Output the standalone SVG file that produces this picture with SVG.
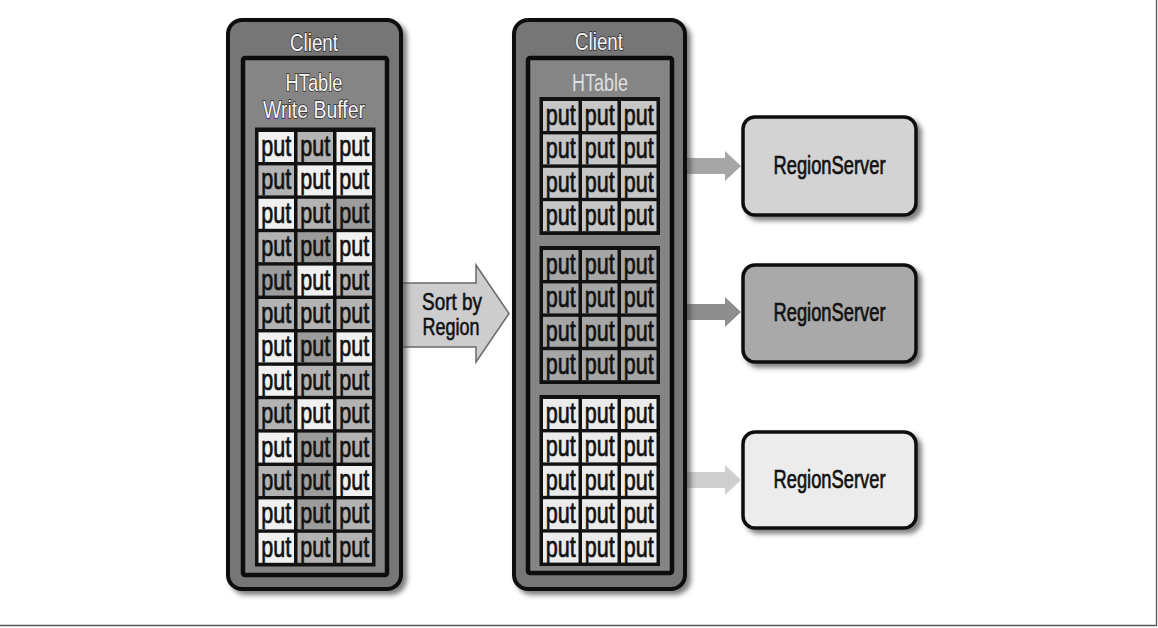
<svg xmlns="http://www.w3.org/2000/svg" width="1158" height="628" viewBox="0 0 1158 628">
<defs>
<filter id="sh" x="-10%" y="-10%" width="130%" height="130%">
<feDropShadow dx="4" dy="4" stdDeviation="2.5" flood-color="#444" flood-opacity="0.7"/>
</filter>
</defs>
<style>
.put{font-family:"Liberation Sans Narrow","Liberation Sans",Arial,sans-serif;font-size:29px;fill:#111;stroke:#111;stroke-width:0.7px;text-anchor:middle}
.lbl{font-family:"Liberation Sans Narrow","Liberation Sans",Arial,sans-serif;font-size:23px;fill:#f6f6f6;stroke:#2a2a2a;stroke-width:1.4px;paint-order:stroke;text-anchor:middle}
.lbl2{font-family:"Liberation Sans Narrow","Liberation Sans",Arial,sans-serif;font-size:23px;fill:#dedede;text-anchor:middle}
.rs{font-family:"Liberation Sans Narrow","Liberation Sans",Arial,sans-serif;font-size:26px;fill:#111;stroke:#111;stroke-width:0.7px;text-anchor:middle}
.sort{font-family:"Liberation Sans Narrow","Liberation Sans",Arial,sans-serif;font-size:24px;fill:#111;stroke:#111;stroke-width:0.6px;text-anchor:middle}
.w{fill:#f1f1f1}.g{fill:#b3b3b3}.d{fill:#9c9c9c}
.r1{fill:#c6c6c6}.r2{fill:#a6a6a6}.r3{fill:#ebebeb}
.outer{fill:#767676;stroke:#0c0c0c;stroke-width:4}
.inner{fill:#858585;stroke:#0c0c0c;stroke-width:4.5}
.grid{fill:#111}
.rsbox{stroke:#0c0c0c;stroke-width:3.5}
</style>
<rect x="0" y="0" width="1158" height="628" fill="#ffffff"/>
<g id="page-frame" stroke="#555" stroke-width="1.3" fill="none">
<line x1="1156.5" y1="0" x2="1156.5" y2="626"/>
<line x1="0" y1="625.5" x2="1157" y2="625.5"/>
</g>

<g id="connectors">
<polygon points="398,283 476,283 476,265 509,313.5 476,362 476,347 398,347" fill="#cdcdcd" stroke="#6a6a6a" stroke-width="1.5"/>
<text class="sort" x="452" y="310" textLength="60" lengthAdjust="spacingAndGlyphs">Sort by</text>
<text class="sort" x="451" y="335" textLength="57" lengthAdjust="spacingAndGlyphs">Region</text>
<polygon points="686,158 725,158 725,151 741,166 725,181 725,174 686,174" fill="#a6a6a6"/>
<polygon points="686,304 725,304 725,297 741,312 725,327 725,320 686,320" fill="#8e8e8e"/>
<polygon points="686,472 725,472 725,465 741,480 725,495 725,488 686,488" fill="#cfcfcf"/>
</g>

<g id="client-left">
<rect class="outer" x="228" y="20" width="173" height="569" rx="14" filter="url(#sh)"/>
<rect class="inner" x="243" y="58" width="144" height="517" rx="2"/>
<text class="lbl" x="314" y="51" textLength="48" lengthAdjust="spacingAndGlyphs">Client</text>
<text class="lbl" x="314" y="91" textLength="57" lengthAdjust="spacingAndGlyphs">HTable</text>
<text class="lbl" x="314" y="118" textLength="102" lengthAdjust="spacingAndGlyphs">Write Buffer</text>
<rect class="grid" x="255" y="127.5" width="120.5" height="439"/>
<g transform="translate(0,132)"><rect class="w" x="258.5" y="0" width="35.5" height="30"/><rect class="g" x="297.5" y="0" width="35.5" height="30"/><rect class="w" x="336.5" y="0" width="35.5" height="30"/><text class="put" x="276.25" y="24" textLength="30" lengthAdjust="spacingAndGlyphs">put</text><text class="put" x="315.25" y="24" textLength="30" lengthAdjust="spacingAndGlyphs">put</text><text class="put" x="354.25" y="24" textLength="30" lengthAdjust="spacingAndGlyphs">put</text></g>
<g transform="translate(0,165.4)"><rect class="g" x="258.5" y="0" width="35.5" height="30"/><rect class="w" x="297.5" y="0" width="35.5" height="30"/><rect class="w" x="336.5" y="0" width="35.5" height="30"/><text class="put" x="276.25" y="24" textLength="30" lengthAdjust="spacingAndGlyphs">put</text><text class="put" x="315.25" y="24" textLength="30" lengthAdjust="spacingAndGlyphs">put</text><text class="put" x="354.25" y="24" textLength="30" lengthAdjust="spacingAndGlyphs">put</text></g>
<g transform="translate(0,198.8)"><rect class="w" x="258.5" y="0" width="35.5" height="30"/><rect class="g" x="297.5" y="0" width="35.5" height="30"/><rect class="d" x="336.5" y="0" width="35.5" height="30"/><text class="put" x="276.25" y="24" textLength="30" lengthAdjust="spacingAndGlyphs">put</text><text class="put" x="315.25" y="24" textLength="30" lengthAdjust="spacingAndGlyphs">put</text><text class="put" x="354.25" y="24" textLength="30" lengthAdjust="spacingAndGlyphs">put</text></g>
<g transform="translate(0,232.2)"><rect class="g" x="258.5" y="0" width="35.5" height="30"/><rect class="d" x="297.5" y="0" width="35.5" height="30"/><rect class="w" x="336.5" y="0" width="35.5" height="30"/><text class="put" x="276.25" y="24" textLength="30" lengthAdjust="spacingAndGlyphs">put</text><text class="put" x="315.25" y="24" textLength="30" lengthAdjust="spacingAndGlyphs">put</text><text class="put" x="354.25" y="24" textLength="30" lengthAdjust="spacingAndGlyphs">put</text></g>
<g transform="translate(0,265.6)"><rect class="d" x="258.5" y="0" width="35.5" height="30"/><rect class="w" x="297.5" y="0" width="35.5" height="30"/><rect class="g" x="336.5" y="0" width="35.5" height="30"/><text class="put" x="276.25" y="24" textLength="30" lengthAdjust="spacingAndGlyphs">put</text><text class="put" x="315.25" y="24" textLength="30" lengthAdjust="spacingAndGlyphs">put</text><text class="put" x="354.25" y="24" textLength="30" lengthAdjust="spacingAndGlyphs">put</text></g>
<g transform="translate(0,299)"><rect class="g" x="258.5" y="0" width="35.5" height="30"/><rect class="g" x="297.5" y="0" width="35.5" height="30"/><rect class="g" x="336.5" y="0" width="35.5" height="30"/><text class="put" x="276.25" y="24" textLength="30" lengthAdjust="spacingAndGlyphs">put</text><text class="put" x="315.25" y="24" textLength="30" lengthAdjust="spacingAndGlyphs">put</text><text class="put" x="354.25" y="24" textLength="30" lengthAdjust="spacingAndGlyphs">put</text></g>
<g transform="translate(0,332.4)"><rect class="w" x="258.5" y="0" width="35.5" height="30"/><rect class="d" x="297.5" y="0" width="35.5" height="30"/><rect class="w" x="336.5" y="0" width="35.5" height="30"/><text class="put" x="276.25" y="24" textLength="30" lengthAdjust="spacingAndGlyphs">put</text><text class="put" x="315.25" y="24" textLength="30" lengthAdjust="spacingAndGlyphs">put</text><text class="put" x="354.25" y="24" textLength="30" lengthAdjust="spacingAndGlyphs">put</text></g>
<g transform="translate(0,365.8)"><rect class="w" x="258.5" y="0" width="35.5" height="30"/><rect class="g" x="297.5" y="0" width="35.5" height="30"/><rect class="g" x="336.5" y="0" width="35.5" height="30"/><text class="put" x="276.25" y="24" textLength="30" lengthAdjust="spacingAndGlyphs">put</text><text class="put" x="315.25" y="24" textLength="30" lengthAdjust="spacingAndGlyphs">put</text><text class="put" x="354.25" y="24" textLength="30" lengthAdjust="spacingAndGlyphs">put</text></g>
<g transform="translate(0,399.2)"><rect class="g" x="258.5" y="0" width="35.5" height="30"/><rect class="w" x="297.5" y="0" width="35.5" height="30"/><rect class="g" x="336.5" y="0" width="35.5" height="30"/><text class="put" x="276.25" y="24" textLength="30" lengthAdjust="spacingAndGlyphs">put</text><text class="put" x="315.25" y="24" textLength="30" lengthAdjust="spacingAndGlyphs">put</text><text class="put" x="354.25" y="24" textLength="30" lengthAdjust="spacingAndGlyphs">put</text></g>
<g transform="translate(0,432.6)"><rect class="w" x="258.5" y="0" width="35.5" height="30"/><rect class="d" x="297.5" y="0" width="35.5" height="30"/><rect class="g" x="336.5" y="0" width="35.5" height="30"/><text class="put" x="276.25" y="24" textLength="30" lengthAdjust="spacingAndGlyphs">put</text><text class="put" x="315.25" y="24" textLength="30" lengthAdjust="spacingAndGlyphs">put</text><text class="put" x="354.25" y="24" textLength="30" lengthAdjust="spacingAndGlyphs">put</text></g>
<g transform="translate(0,466)"><rect class="g" x="258.5" y="0" width="35.5" height="30"/><rect class="d" x="297.5" y="0" width="35.5" height="30"/><rect class="w" x="336.5" y="0" width="35.5" height="30"/><text class="put" x="276.25" y="24" textLength="30" lengthAdjust="spacingAndGlyphs">put</text><text class="put" x="315.25" y="24" textLength="30" lengthAdjust="spacingAndGlyphs">put</text><text class="put" x="354.25" y="24" textLength="30" lengthAdjust="spacingAndGlyphs">put</text></g>
<g transform="translate(0,499.4)"><rect class="w" x="258.5" y="0" width="35.5" height="30"/><rect class="d" x="297.5" y="0" width="35.5" height="30"/><rect class="g" x="336.5" y="0" width="35.5" height="30"/><text class="put" x="276.25" y="24" textLength="30" lengthAdjust="spacingAndGlyphs">put</text><text class="put" x="315.25" y="24" textLength="30" lengthAdjust="spacingAndGlyphs">put</text><text class="put" x="354.25" y="24" textLength="30" lengthAdjust="spacingAndGlyphs">put</text></g>
<g transform="translate(0,532.8)"><rect class="w" x="258.5" y="0" width="35.5" height="30"/><rect class="g" x="297.5" y="0" width="35.5" height="30"/><rect class="g" x="336.5" y="0" width="35.5" height="30"/><text class="put" x="276.25" y="24" textLength="30" lengthAdjust="spacingAndGlyphs">put</text><text class="put" x="315.25" y="24" textLength="30" lengthAdjust="spacingAndGlyphs">put</text><text class="put" x="354.25" y="24" textLength="30" lengthAdjust="spacingAndGlyphs">put</text></g>
</g>

<g id="client-right">
<rect class="outer" x="514" y="20" width="171" height="569" rx="14" filter="url(#sh)"/>
<rect class="inner" x="528" y="58" width="144" height="515" rx="2"/>
<text class="lbl" x="599" y="50" textLength="48" lengthAdjust="spacingAndGlyphs">Client</text>
<text class="lbl2" x="600" y="91" textLength="56" lengthAdjust="spacingAndGlyphs">HTable</text>
<rect class="grid" x="539.5" y="97" width="120.5" height="138"/>
<g transform="translate(0,101)"><rect class="r1" x="543" y="0" width="35.5" height="30"/><rect class="r1" x="582" y="0" width="35.5" height="30"/><rect class="r1" x="621" y="0" width="35.5" height="30"/><text class="put" x="560.75" y="24" textLength="30" lengthAdjust="spacingAndGlyphs">put</text><text class="put" x="599.75" y="24" textLength="30" lengthAdjust="spacingAndGlyphs">put</text><text class="put" x="638.75" y="24" textLength="30" lengthAdjust="spacingAndGlyphs">put</text></g>
<g transform="translate(0,134.4)"><rect class="r1" x="543" y="0" width="35.5" height="30"/><rect class="r1" x="582" y="0" width="35.5" height="30"/><rect class="r1" x="621" y="0" width="35.5" height="30"/><text class="put" x="560.75" y="24" textLength="30" lengthAdjust="spacingAndGlyphs">put</text><text class="put" x="599.75" y="24" textLength="30" lengthAdjust="spacingAndGlyphs">put</text><text class="put" x="638.75" y="24" textLength="30" lengthAdjust="spacingAndGlyphs">put</text></g>
<g transform="translate(0,167.8)"><rect class="r1" x="543" y="0" width="35.5" height="30"/><rect class="r1" x="582" y="0" width="35.5" height="30"/><rect class="r1" x="621" y="0" width="35.5" height="30"/><text class="put" x="560.75" y="24" textLength="30" lengthAdjust="spacingAndGlyphs">put</text><text class="put" x="599.75" y="24" textLength="30" lengthAdjust="spacingAndGlyphs">put</text><text class="put" x="638.75" y="24" textLength="30" lengthAdjust="spacingAndGlyphs">put</text></g>
<g transform="translate(0,201.2)"><rect class="r1" x="543" y="0" width="35.5" height="30"/><rect class="r1" x="582" y="0" width="35.5" height="30"/><rect class="r1" x="621" y="0" width="35.5" height="30"/><text class="put" x="560.75" y="24" textLength="30" lengthAdjust="spacingAndGlyphs">put</text><text class="put" x="599.75" y="24" textLength="30" lengthAdjust="spacingAndGlyphs">put</text><text class="put" x="638.75" y="24" textLength="30" lengthAdjust="spacingAndGlyphs">put</text></g>
<rect class="grid" x="539.5" y="246" width="120.5" height="138"/>
<g transform="translate(0,250)"><rect class="r2" x="543" y="0" width="35.5" height="30"/><rect class="r2" x="582" y="0" width="35.5" height="30"/><rect class="r2" x="621" y="0" width="35.5" height="30"/><text class="put" x="560.75" y="24" textLength="30" lengthAdjust="spacingAndGlyphs">put</text><text class="put" x="599.75" y="24" textLength="30" lengthAdjust="spacingAndGlyphs">put</text><text class="put" x="638.75" y="24" textLength="30" lengthAdjust="spacingAndGlyphs">put</text></g>
<g transform="translate(0,283.4)"><rect class="r2" x="543" y="0" width="35.5" height="30"/><rect class="r2" x="582" y="0" width="35.5" height="30"/><rect class="r2" x="621" y="0" width="35.5" height="30"/><text class="put" x="560.75" y="24" textLength="30" lengthAdjust="spacingAndGlyphs">put</text><text class="put" x="599.75" y="24" textLength="30" lengthAdjust="spacingAndGlyphs">put</text><text class="put" x="638.75" y="24" textLength="30" lengthAdjust="spacingAndGlyphs">put</text></g>
<g transform="translate(0,316.8)"><rect class="r2" x="543" y="0" width="35.5" height="30"/><rect class="r2" x="582" y="0" width="35.5" height="30"/><rect class="r2" x="621" y="0" width="35.5" height="30"/><text class="put" x="560.75" y="24" textLength="30" lengthAdjust="spacingAndGlyphs">put</text><text class="put" x="599.75" y="24" textLength="30" lengthAdjust="spacingAndGlyphs">put</text><text class="put" x="638.75" y="24" textLength="30" lengthAdjust="spacingAndGlyphs">put</text></g>
<g transform="translate(0,350.2)"><rect class="r2" x="543" y="0" width="35.5" height="30"/><rect class="r2" x="582" y="0" width="35.5" height="30"/><rect class="r2" x="621" y="0" width="35.5" height="30"/><text class="put" x="560.75" y="24" textLength="30" lengthAdjust="spacingAndGlyphs">put</text><text class="put" x="599.75" y="24" textLength="30" lengthAdjust="spacingAndGlyphs">put</text><text class="put" x="638.75" y="24" textLength="30" lengthAdjust="spacingAndGlyphs">put</text></g>
<rect class="grid" x="539.5" y="395" width="120.5" height="171"/>
<g transform="translate(0,399)"><rect class="r3" x="543" y="0" width="35.5" height="30"/><rect class="r3" x="582" y="0" width="35.5" height="30"/><rect class="r3" x="621" y="0" width="35.5" height="30"/><text class="put" x="560.75" y="24" textLength="30" lengthAdjust="spacingAndGlyphs">put</text><text class="put" x="599.75" y="24" textLength="30" lengthAdjust="spacingAndGlyphs">put</text><text class="put" x="638.75" y="24" textLength="30" lengthAdjust="spacingAndGlyphs">put</text></g>
<g transform="translate(0,432.4)"><rect class="r3" x="543" y="0" width="35.5" height="30"/><rect class="r3" x="582" y="0" width="35.5" height="30"/><rect class="r3" x="621" y="0" width="35.5" height="30"/><text class="put" x="560.75" y="24" textLength="30" lengthAdjust="spacingAndGlyphs">put</text><text class="put" x="599.75" y="24" textLength="30" lengthAdjust="spacingAndGlyphs">put</text><text class="put" x="638.75" y="24" textLength="30" lengthAdjust="spacingAndGlyphs">put</text></g>
<g transform="translate(0,465.8)"><rect class="r3" x="543" y="0" width="35.5" height="30"/><rect class="r3" x="582" y="0" width="35.5" height="30"/><rect class="r3" x="621" y="0" width="35.5" height="30"/><text class="put" x="560.75" y="24" textLength="30" lengthAdjust="spacingAndGlyphs">put</text><text class="put" x="599.75" y="24" textLength="30" lengthAdjust="spacingAndGlyphs">put</text><text class="put" x="638.75" y="24" textLength="30" lengthAdjust="spacingAndGlyphs">put</text></g>
<g transform="translate(0,499.2)"><rect class="r3" x="543" y="0" width="35.5" height="30"/><rect class="r3" x="582" y="0" width="35.5" height="30"/><rect class="r3" x="621" y="0" width="35.5" height="30"/><text class="put" x="560.75" y="24" textLength="30" lengthAdjust="spacingAndGlyphs">put</text><text class="put" x="599.75" y="24" textLength="30" lengthAdjust="spacingAndGlyphs">put</text><text class="put" x="638.75" y="24" textLength="30" lengthAdjust="spacingAndGlyphs">put</text></g>
<g transform="translate(0,532.6)"><rect class="r3" x="543" y="0" width="35.5" height="30"/><rect class="r3" x="582" y="0" width="35.5" height="30"/><rect class="r3" x="621" y="0" width="35.5" height="30"/><text class="put" x="560.75" y="24" textLength="30" lengthAdjust="spacingAndGlyphs">put</text><text class="put" x="599.75" y="24" textLength="30" lengthAdjust="spacingAndGlyphs">put</text><text class="put" x="638.75" y="24" textLength="30" lengthAdjust="spacingAndGlyphs">put</text></g>
</g>

<g id="regionserver-1">
<rect class="rsbox" x="743" y="117" width="173" height="98" rx="12" fill="#d3d3d3" filter="url(#sh)"/>
<text class="rs" x="829.5" y="174" textLength="112" lengthAdjust="spacingAndGlyphs">RegionServer</text>
</g>
<g id="regionserver-2">
<rect class="rsbox" x="743" y="265" width="173" height="97" rx="12" fill="#a9a9a9" filter="url(#sh)"/>
<text class="rs" x="829.5" y="321" textLength="112" lengthAdjust="spacingAndGlyphs">RegionServer</text>
</g>
<g id="regionserver-3">
<rect class="rsbox" x="743" y="432" width="173" height="96" rx="12" fill="#ececec" filter="url(#sh)"/>
<text class="rs" x="829.5" y="488" textLength="112" lengthAdjust="spacingAndGlyphs">RegionServer</text>
</g>
</svg>
